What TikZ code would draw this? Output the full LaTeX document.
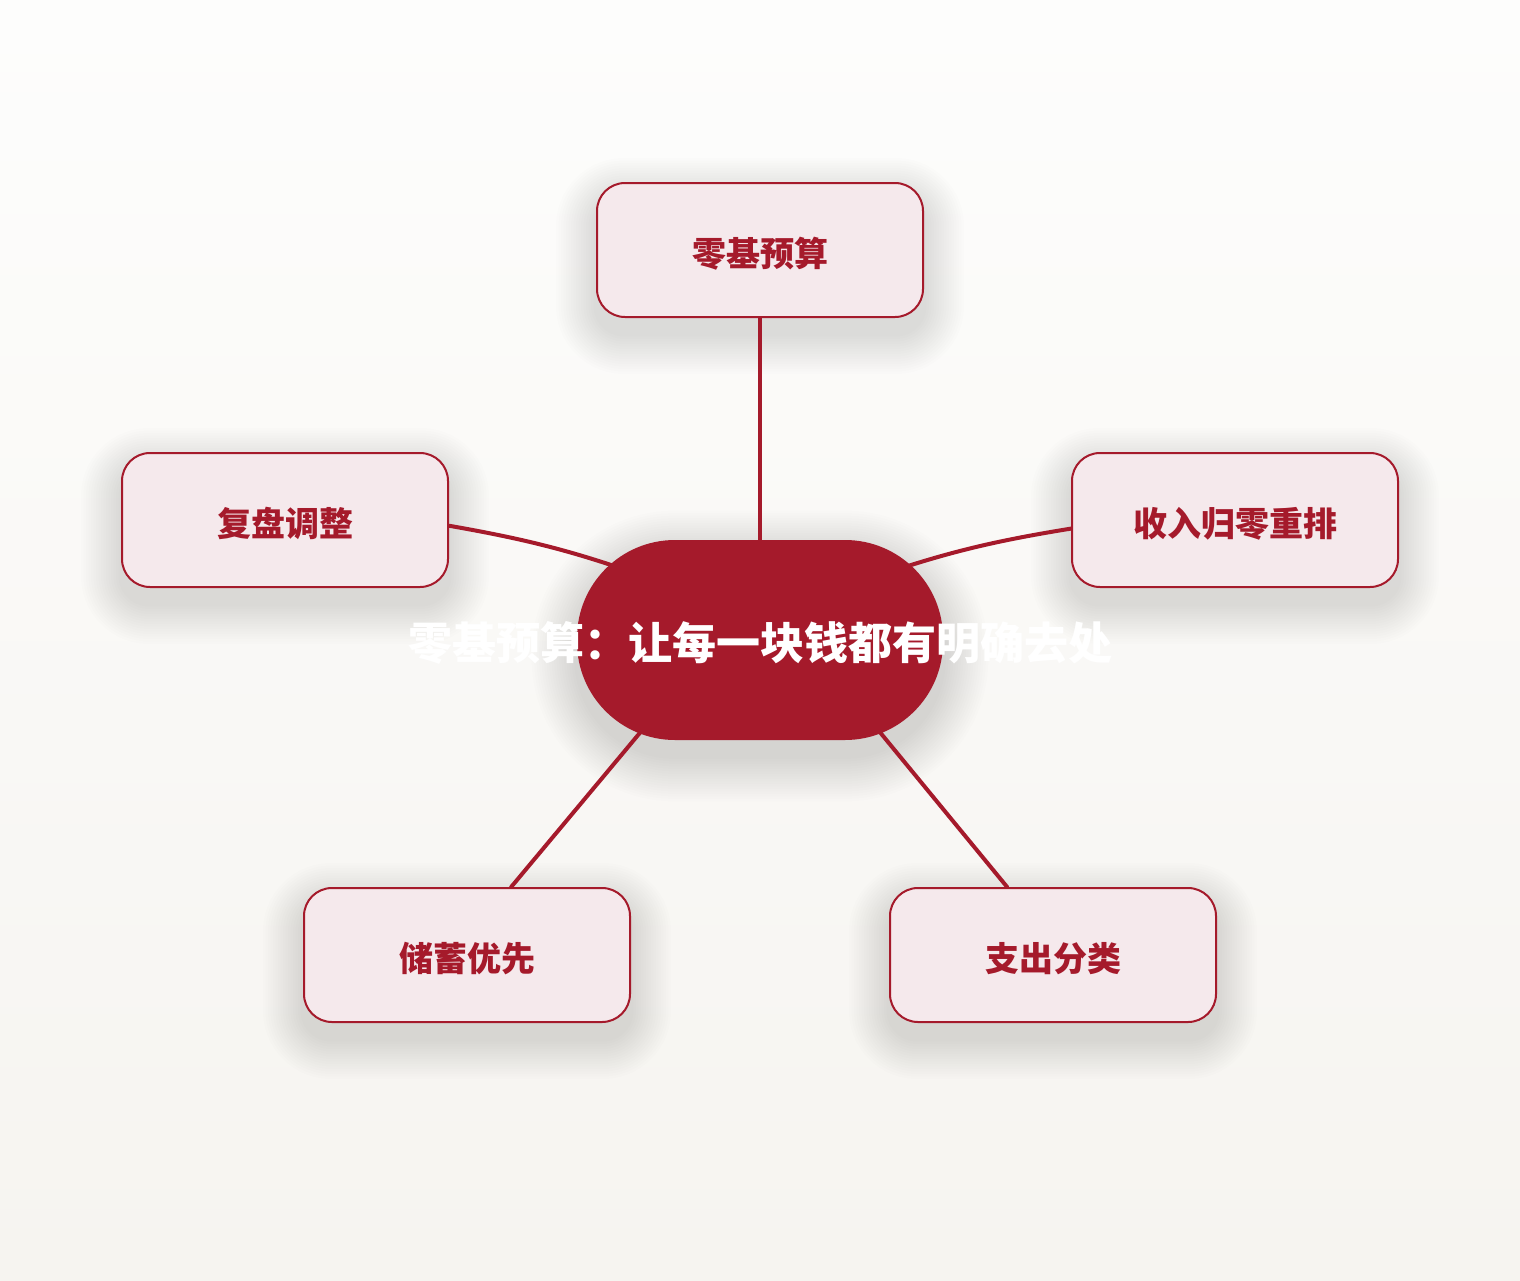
\documentclass[tikz,border=0pt]{standalone}
\usepackage{fontspec}
\setmainfont{Noto Sans CJK SC}
\definecolor{budgetred}{HTML}{A51A2B}
\definecolor{boxfill}{HTML}{F5E9EC}
\definecolor{bgtop}{HTML}{FDFDFC}
\definecolor{bgbottom}{HTML}{F6F4F0}
\pgfdeclarelayer{back}
\pgfdeclarelayer{shade}
\pgfdeclarelayer{links}
\pgfsetlayers{back,shade,links,main}

\begin{document}
\begin{tikzpicture}[x=0.5pt,y=-0.5pt,
  topic/.style={draw=budgetred, line width=1pt, fill=boxfill, rounded corners=14pt,
    minimum width=163pt, minimum height=67pt, text=budgetred, text height=18pt, text depth=2pt,
    font=\bfseries\fontsize{17}{20}\selectfont},
  hub/.style={fill=budgetred, rounded corners=49pt, minimum width=183pt, minimum height=100pt,
    text=white, text height=22.5pt, text depth=2.6pt, font=\bfseries\fontsize{22}{26}\selectfont},
  haze/.style={fill=black, opacity=0.0085},
  link/.style={draw=budgetred, line width=2pt, line cap=round}]

  \begin{pgfonlayer}{back}
    \fill[top color=bgtop, bottom color=bgbottom] (0,0) rectangle (1520,1280);
  \end{pgfonlayer}

  \node [topic] (plan)    at (760,250)  {零基预算};
  \node [topic] (review)  at (285,520)  {复盘调整};
  \node [topic] (reset)   at (1235,520) {收入归零重排};
  \node [topic] (saving)  at (467,955)  {储蓄优先};
  \node [topic] (spend)   at (1053,955) {支出分类};

  \node [hub] (hub) at (760,640) {\makebox[0pt]{零基预算：让每一块钱都有明确去处}};

  % soft shadows
  \begin{pgfonlayer}{shade}
    \foreach \n in {plan,review,reset,saving,spend}
      \foreach \i in {1,...,16}
        \fill[haze, rounded corners=14pt+\i*1.25pt]
          ([shift={(-\i*2.5,\i*2.5+16)}]\n.south west) rectangle ([shift={(\i*2.5,-\i*2.5+16)}]\n.north east);
    \foreach \i in {1,...,18}
      \fill[haze, rounded corners=49pt+\i*1.25pt]
        ([shift={(-\i*2.5,\i*2.5+16)}]hub.south west) rectangle ([shift={(\i*2.5,-\i*2.5+16)}]hub.north east);
  \end{pgfonlayer}

  \begin{pgfonlayer}{links}
    \path[link] (plan.south) -- (hub.north);
    \path[link] (review.-2.5) to[bend left=5] ([shift={(-100,-58)}]hub.center);
    \path[link] (reset.183) to[bend right=5] ([shift={(100,-58)}]hub.center);
    \path[link] (saving.57) -- ([shift={(-81,46)}]hub.center);
    \path[link] (spend.124) -- ([shift={(82,46)}]hub.center);
  \end{pgfonlayer}

\end{tikzpicture}
\end{document}
